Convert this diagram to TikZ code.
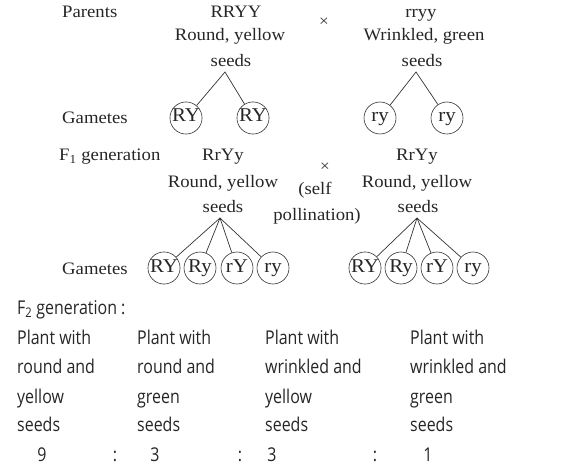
\documentclass[tikz,border=0pt]{standalone}
\usepackage{fontspec}
\setmainfont{Liberation Serif}[FakeStretch=1.07]
\setsansfont{Open Sans}[FakeStretch=0.84]
\begin{document}
\begin{tikzpicture}[x=1pt,y=-1pt,
  ser/.style={font=\fontsize{17.5}{20}\selectfont, text=black!85, inner sep=0pt, anchor=base},
  lab/.style={ser, anchor=base west},
  gam/.style={circle, draw=black!80, line width=0.6pt, minimum size=32pt, inner sep=0pt, text height=12pt, text depth=4pt, text=black!85, font=\fontsize{19.5}{20}\selectfont},
  br/.style={draw=black!80, line width=0.7pt},
  crs/.style={font=\fontsize{16}{18}\selectfont, text=black!80, inner sep=0pt},
  sans/.style={font=\sffamily\fontsize{19}{20}\selectfont, text=black!85, inner sep=0pt, anchor=base west}]
\useasboundingbox (0,0) rectangle (561,470);
% Parents
\node[lab] (par) at (62,17.5) {Parents};
\node[ser] (p1a) at (236,17.5) {RRYY};
\node[ser] (p1b) at (230,41) {Round, yellow};
\node[ser] (p1c) at (231,67) {seeds};
\node[crs] (x1) at (324,22) {×};
\node[ser] (p2a) at (421,17.5) {rryy};
\node[ser] (p2b) at (424,41) {Wrinkled, green};
\node[ser] (p2c) at (422,67) {seeds};
\coordinate (a1) at (225,72);
\coordinate (a2) at (416,72);
% Gametes 1
\node[lab] (g1) at (62,124) {Gametes};
\node[gam] (c11) at (186,118) {RY};
\node[gam] (c12) at (253,118) {RY};
\node[gam] (c21) at (380,118) {ry};
\node[gam] (c22) at (447,118) {ry};
\draw[br] (c11) -- (a1) -- (c12);
\draw[br] (c21) -- (a2) -- (c22);
% F1
\node[lab] (f1) at (59,161) {F\textsubscript{1} generation};
\node[ser] (q1a) at (223,161) {RrYy};
\node[ser] (q1b) at (223,187) {Round, yellow};
\node[ser] (q1c) at (223,212) {seeds};
\node[crs] (x2) at (325,167) {×};
\node[ser] (s1) at (315,195) {(self};
\node[ser] (s2) at (317,220) {pollination)};
\node[ser] (q2a) at (417,161) {RrYy};
\node[ser] (q2b) at (417,187) {Round, yellow};
\node[ser] (q2c) at (418,212) {seeds};
\coordinate (b1) at (220,218);
\coordinate (b2) at (417,218);
% Gametes 2
\node[lab] (g2) at (62,274) {Gametes};
\foreach \n/\x/\t in {1/164/RY,2/200/Ry,3/237/rY,4/273/ry}{
  \node[gam] (d1\n) at (\x,268) {\t};
  \draw[br] (b1) -- (d1\n);
}
\foreach \n/\x/\t in {1/365/RY,2/401/Ry,3/437/rY,4/473/ry}{
  \node[gam] (d2\n) at (\x,268) {\t};
  \draw[br] (b2) -- (d2\n);
}
% F2
\node[sans] (f2) at (17,314) {F\textsubscript{2} generation :};
\node[sans] (k1a) at (17,344) {Plant with};
\node[sans] (k1b) at (17,373) {round and};
\node[sans] (k1c) at (17,403) {yellow};
\node[sans] (k1d) at (17,431) {seeds};
\node[sans] (k2a) at (137,344) {Plant with};
\node[sans] (k2b) at (137,373) {round and};
\node[sans] (k2c) at (137,403) {green};
\node[sans] (k2d) at (137,431) {seeds};
\node[sans] (k3a) at (265,344) {Plant with};
\node[sans] (k3b) at (265,373) {wrinkled and};
\node[sans] (k3c) at (265,403) {yellow};
\node[sans] (k3d) at (265,431) {seeds};
\node[sans] (k4a) at (410,344) {Plant with};
\node[sans] (k4b) at (410,373) {wrinkled and};
\node[sans] (k4c) at (410,403) {green};
\node[sans] (k4d) at (410,431) {seeds};
\node[sans,anchor=base] (n1) at (42,461) {9};
\node[sans,anchor=base] (r1) at (115,461) {:};
\node[sans,anchor=base] (n2) at (155,461) {3};
\node[sans,anchor=base] (r2) at (240,461) {:};
\node[sans,anchor=base] (n3) at (272,461) {3};
\node[sans,anchor=base] (r3) at (375,461) {:};
\node[sans,anchor=base] (n4) at (428,461) {1};
\end{tikzpicture}
\end{document}
